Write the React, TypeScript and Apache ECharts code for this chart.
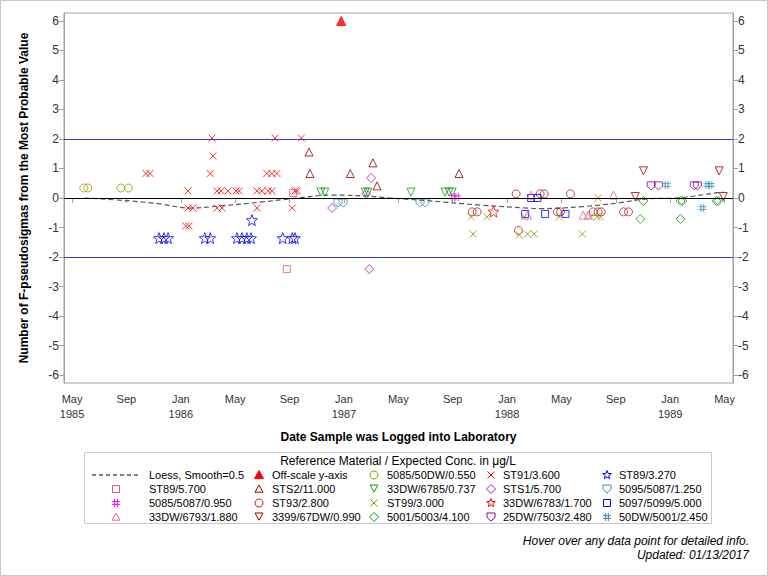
import React, { useEffect, useRef } from "react";
import * as echarts from "echarts";

type Pt = [string, number];

// ---------- axis ticks ----------
const xTickMonths = [4, 8, 12, 16, 20, 24, 28, 32, 36, 40, 44, 48, 52]; // months since Jan 1985
const monthNames = ["Jan", "Feb", "Mar", "Apr", "May", "Jun", "Jul", "Aug", "Sep", "Oct", "Nov", "Dec"];
const yTicks = [-6, -5, -4, -3, -2, -1, 0, 1, 2, 3, 4, 5, 6];
const refLines = [0, 2, -2];

// ---------- data ----------
const loessCurve: Pt[] = [
  ["1985-05-29", 0], ["1985-09-09", -0.1], ["1985-11-15", -0.2], ["1986-01-21", -0.34],
  ["1986-03-28", -0.27], ["1986-06-26", -0.14], ["1986-09-02", -0.03], ["1986-12-07", 0.1],
  ["1987-02-13", 0.07], ["1987-04-13", 0], ["1987-07-04", -0.09], ["1987-11-01", -0.24],
  ["1988-02-16", -0.34], ["1988-03-14", -0.36], ["1988-06-19", -0.29], ["1988-09-10", -0.16],
  ["1988-11-10", -0.03], ["1989-01-24", 0.01], ["1989-04-15", 0.18], ["1989-04-28", 0.2],
];
const offScale: Pt[] = [["1986-12-25", 6]];
const m5085_50dw: Pt[] = [["1985-05-27", 0.34], ["1985-06-06", 0.34], ["1985-08-19", 0.34], ["1985-09-05", 0.34]];
const st91: Pt[] = [
  ["1985-10-14", 0.83], ["1985-10-23", 0.83],
  ["1986-01-17", 0.24], ["1986-01-17", -0.34], ["1986-01-28", -0.34], ["1986-01-12", -0.95], ["1986-01-19", -0.95],
  ["1986-03-10", 2.03], ["1986-03-12", 1.42], ["1986-03-06", 0.83],
  ["1986-03-21", 0.24], ["1986-03-30", 0.24], ["1986-04-15", 0.24],
  ["1986-03-21", -0.34], ["1986-04-02", -0.34],
  ["1986-05-03", 0.24], ["1986-05-10", 0.24],
  ["1986-06-19", 0.24], ["1986-06-30", 0.24], ["1986-07-14", 0.24], ["1986-07-22", 0.24],
  ["1986-06-19", -0.34],
  ["1986-07-11", 0.83], ["1986-07-22", 0.83], ["1986-08-03", 0.83],
  ["1986-07-29", 2.03], ["1986-09-07", -0.34],
  ["1986-09-13", 0.24], ["1986-09-18", 0.24], ["1986-09-27", 2.03],
];
const st89_3270: Pt[] = [
  ["1985-11-13", -1.36], ["1985-11-24", -1.36], ["1985-12-03", -1.36], ["1986-02-24", -1.36],
  ["1986-03-06", -1.36], ["1986-05-05", -1.36], ["1986-05-16", -1.36], ["1986-05-27", -1.36],
  ["1986-06-06", -1.36], ["1986-06-08", -0.75], ["1986-08-16", -1.36], ["1986-09-07", -1.36],
  ["1986-09-13", -1.36],
];
const st89_5700: Pt[] = [["1986-08-25", -2.41], ["1986-09-09", 0.17]];
const sts2: Pt[] = [["1986-10-14", 1.56], ["1986-10-16", 0.83], ["1987-01-15", 0.83], ["1987-03-05", 1.19], ["1987-03-14", 0.41], ["1987-09-15", 0.83]];
const dw6785: Pt[] = [
  ["1986-11-10", 0.2], ["1986-11-19", 0.2], ["1987-02-18", 0.2], ["1987-02-24", 0.2],
  ["1987-05-29", 0.2], ["1987-08-14", 0.2], ["1987-08-23", 0.2], ["1987-08-30", 0.2],
];
const sts1: Pt[] = [["1987-03-01", 0.68], ["1987-02-20", 0.14], ["1986-12-05", -0.34], ["1987-02-27", -2.41]];
const m5095_5087: Pt[] = [["1986-12-18", -0.17], ["1986-12-29", -0.17], ["1987-06-19", -0.17], ["1987-06-30", -0.17]];
const m5085_5087: Pt[] = [["1987-09-02", 0.03], ["1987-09-11", 0.03]];
const st93: Pt[] = [
  ["1987-10-14", -0.47], ["1987-10-25", -0.47], ["1988-01-21", 0.14], ["1988-01-26", -1.1],
  ["1988-03-14", 0.14], ["1988-03-23", 0.14], ["1988-05-21", 0.14], ["1988-04-22", -0.47],
  ["1988-04-29", -0.47], ["1988-07-11", -0.47], ["1988-07-22", -0.47], ["1988-07-29", -0.47],
  ["1988-09-18", -0.47], ["1988-09-29", -0.47],
];
const st99: Pt[] = [
  ["1987-10-12", -0.64], ["1987-11-17", -0.64], ["1987-10-16", -1.22], ["1988-02-09", -0.64],
  ["1988-02-16", -1.22], ["1988-01-28", -1.25], ["1988-03-01", -1.22], ["1988-04-26", -0.64],
  ["1988-07-22", 0.0], ["1988-06-17", -1.22], ["1988-07-05", -0.64], ["1988-07-20", -0.64],
  ["1988-07-27", -0.64],
];
const dw6783: Pt[] = [["1987-12-01", -0.46]];
const m5097_5099: Pt[] = [["1988-02-24", 0], ["1988-03-08", 0], ["1988-02-11", -0.54], ["1988-03-25", -0.54], ["1988-05-10", -0.54]];
const dw6793: Pt[] = [["1988-02-24", 0.1], ["1988-02-16", -0.58], ["1988-06-19", -0.58], ["1988-06-30", -0.58], ["1988-08-26", 0.1]];
const dw3399: Pt[] = [["1988-11-02", 0.92], ["1988-10-14", 0.05], ["1989-04-19", 0.92], ["1989-04-28", 0.05]];
const m5001_5003: Pt[] = [
  ["1988-11-02", -0.1], ["1988-10-25", -0.71], ["1989-01-24", -0.1], ["1989-01-28", -0.1],
  ["1989-01-24", -0.71], ["1989-04-13", -0.1], ["1989-04-17", -0.1],
];
const dw7503: Pt[] = [["1988-11-19", 0.41], ["1988-12-05", 0.41], ["1989-02-24", 0.41], ["1989-03-01", 0.41]];
const dw5001: Pt[] = [["1988-12-23", 0.44], ["1989-03-23", 0.44], ["1989-03-30", 0.44], ["1989-03-12", -0.34]];

// ---------- symbol shapes (0..10 box) ----------
type ShapeDef = { closed: boolean; parts: number[][][] };
const SHAPES: Record<string, ShapeDef> = {
  x: { closed: false, parts: [[[0, 0], [10, 10]], [[10, 0], [0, 10]]] },
  hash: { closed: false, parts: [[[3.3, 0], [3.3, 10]], [[6.7, 0], [6.7, 10]], [[0, 3.3], [10, 3.3]], [[0, 6.7], [10, 6.7]]] },
  tri: { closed: true, parts: [[[5, 0], [10, 9], [0, 9]]] },
  invTri: { closed: true, parts: [[[0, 0], [10, 0], [5, 9]]] },
  diamond: { closed: true, parts: [[[5, 0], [10, 5], [5, 10], [0, 5]]] },
  square: { closed: true, parts: [[[0, 0], [10, 0], [10, 10], [0, 10]]] },
  shield: { closed: true, parts: [[[0, 0], [10, 0], [10, 5.5], [5, 10], [0, 5.5]]] },
  star: {
    closed: true,
    parts: [[[5, 0], [6.23, 3.3], [9.76, 3.45], [7, 5.65], [7.94, 9.05], [5, 7.1], [2.06, 9.05], [3, 5.65], [0.24, 3.45], [3.77, 3.3]]],
  },
};
const toPath = (k: string) => {
  if (k === "circle") return "circle";
  const d = SHAPES[k];
  return "path://" + d.parts.map((p) => "M" + p.map((q) => q.join(",")).join("L") + (d.closed ? "Z" : "")).join("");
};

type Spec = { name: string; data: Pt[]; shape: string; color: string; size: number; filled?: boolean };
const specs: Spec[] = [
  { name: "Off-scale y-axis", data: offScale, shape: "tri", color: "#ff0000", size: 9, filled: true },
  { name: "5085/50DW/0.550", data: m5085_50dw, shape: "circle", color: "#999900", size: 8 },
  { name: "ST91/3.600", data: st91, shape: "x", color: "#ff0000", size: 7 },
  { name: "ST89/3.270", data: st89_3270, shape: "star", color: "#0000ff", size: 11 },
  { name: "ST89/5.700", data: st89_5700, shape: "square", color: "#e0508c", size: 7 },
  { name: "STS2/11.000", data: sts2, shape: "tri", color: "#8b0000", size: 8 },
  { name: "33DW/6785/0.737", data: dw6785, shape: "invTri", color: "#119911", size: 8 },
  { name: "STS1/5.700", data: sts1, shape: "diamond", color: "#a020b0", size: 9 },
  { name: "5095/5087/1.250", data: m5095_5087, shape: "shield", color: "#3a8ab5", size: 8 },
  { name: "5085/5087/0.950", data: m5085_5087, shape: "hash", color: "#ff00ff", size: 8 },
  { name: "ST93/2.800", data: st93, shape: "circle", color: "#b22222", size: 8 },
  { name: "ST99/3.000", data: st99, shape: "x", color: "#8f8f00", size: 7 },
  { name: "33DW/6783/1.700", data: dw6783, shape: "star", color: "#ff0000", size: 11 },
  { name: "5097/5099/5.000", data: m5097_5099, shape: "square", color: "#0000ff", size: 7 },
  { name: "33DW/6793/1.880", data: dw6793, shape: "tri", color: "#e4609c", size: 8 },
  { name: "3399/67DW/0.990", data: dw3399, shape: "invTri", color: "#a00000", size: 8 },
  { name: "5001/5003/4.100", data: m5001_5003, shape: "diamond", color: "#119911", size: 9 },
  { name: "25DW/7503/2.480", data: dw7503, shape: "shield", color: "#8b008b", size: 8 },
  { name: "50DW/5001/2.450", data: dw5001, shape: "hash", color: "#3a8ab5", size: 8 },
];

const legendTitle = "Reference Material / Expected Conc. in \u03bcg/L";
const loessName = "Loess, Smooth=0.5";
const legendOrder = [
  loessName, "Off-scale y-axis", "5085/50DW/0.550", "ST91/3.600", "ST89/3.270",
  "ST89/5.700", "STS2/11.000", "33DW/6785/0.737", "STS1/5.700", "5095/5087/1.250",
  "5085/5087/0.950", "ST93/2.800", "ST99/3.000", "33DW/6783/1.700", "5097/5099/5.000",
  "33DW/6793/1.880", "3399/67DW/0.990", "5001/5003/4.100", "25DW/7503/2.480", "50DW/5001/2.450",
];

const toM = (s: string) => {
  const [y, m, d] = s.split("-").map(Number);
  return (y - 1985) * 12 + (m - 1) + (d - 1) / 30;
};

const FONT = "Liberation Sans, Arial, Helvetica, sans-serif";

function legendSymbol(shape: string, color: string, filled: boolean, cx: number, cy: number, size: number): any {
  if (shape === "circle") {
    return { type: "circle", shape: { cx, cy, r: size / 2 }, style: { fill: filled ? color : "none", stroke: color, lineWidth: 1 } };
  }
  const def = SHAPES[shape];
  const s = size / 10;
  return {
    type: "group",
    children: def.parts.map((p) => ({
      type: def.closed ? "polygon" : "polyline",
      shape: { points: p.map(([px, py]) => [cx + (px - 5) * s, cy + (py - 5) * s]) },
      style: { fill: def.closed && filled ? color : "none", stroke: color, lineWidth: 1 },
    })),
  };
}

export default function App() {
  const ref = useRef<HTMLDivElement>(null);
  useEffect(() => {
    if (!ref.current) return;
    const chart = echarts.init(ref.current, undefined, { renderer: "svg" });

    const colSym = [116, 259, 374, 491, 607];
    const colText = [149, 272, 387, 503, 619];
    const rowY = [475, 489, 503, 517];
    const legendEls: any[] = [
      { type: "rect", shape: { x: 84.5, y: 452.5, width: 627, height: 71 }, style: { fill: "none", stroke: "#c8c8c8", lineWidth: 1 } },
      { type: "text", x: 398, y: 461, style: { text: legendTitle, font: `12px ${FONT}`, fill: "#000", textAlign: "center", textVerticalAlign: "middle" } },
    ];
    legendOrder.forEach((name, i) => {
      const col = i % 5;
      const row = Math.floor(i / 5);
      const cy = rowY[row];
      if (name === loessName) {
        legendEls.push({ type: "line", shape: { x1: 92, y1: cy, x2: 140, y2: cy }, style: { stroke: "#000", lineWidth: 1, lineDash: [4, 3] } });
      } else {
        const sp = specs.find((s) => s.name === name)!;
        legendEls.push(legendSymbol(sp.shape, sp.color, !!sp.filled, colSym[col], cy, Math.min(sp.size, 9)));
      }
      legendEls.push({ type: "text", x: colText[col], y: cy, style: { text: name, font: `11px ${FONT}`, fill: "#000", textAlign: "left", textVerticalAlign: "middle" } });
    });

    const yAxisCommon = {
      type: "value",
      min: -6.27,
      max: 6.27,
      splitLine: { show: false },
      axisLine: { show: true, lineStyle: { color: "#a0a0a0" } },
      axisTick: { show: true, length: 5, customValues: yTicks, lineStyle: { color: "#a0a0a0" } },
      axisLabel: { customValues: yTicks, color: "#333", fontSize: 12, fontFamily: FONT, margin: 5 },
    };

    const option: any = {
      animation: false,
      textStyle: { fontFamily: FONT },
      grid: { left: 64, right: 35, top: 13, bottom: 193, show: true, borderColor: "#a0a0a0", borderWidth: 1 },
      xAxis: {
        type: "value",
        min: 3.41,
        max: 52.62,
        splitLine: { show: false },
        axisLine: { show: true, lineStyle: { color: "#a0a0a0" } },
        axisTick: { show: true, length: 5, customValues: xTickMonths, lineStyle: { color: "#a0a0a0" } },
        axisLabel: {
          customValues: xTickMonths,
          color: "#333",
          fontSize: 11,
          fontFamily: FONT,
          margin: 8,
          lineHeight: 15,
          formatter: (v: number) => {
            const mi = Math.round(v);
            const mon = monthNames[mi % 12];
            const yr = 1985 + Math.floor(mi / 12);
            return mi === xTickMonths[0] || mi % 12 === 0 ? `${mon}\n${yr}` : mon;
          },
        },
        name: "Date Sample was Logged into Laboratory",
        nameLocation: "middle",
        nameGap: 48,
        nameTextStyle: { fontWeight: "bold", fontSize: 12, color: "#000", fontFamily: FONT },
      },
      yAxis: [
        {
          ...yAxisCommon,
          position: "left",
          name: "Number of F-pseudosigmas from the Most Probable Value",
          nameLocation: "middle",
          nameGap: 34,
          nameTextStyle: { fontWeight: "bold", fontSize: 12, color: "#000", fontFamily: FONT },
        },
        { ...yAxisCommon, position: "right" },
      ],
      graphic: {
        elements: [
          { type: "rect", shape: { x: 0.5, y: 0.5, width: 767, height: 575 }, style: { fill: "none", stroke: "#c8c8c8", lineWidth: 1 } },
          ...legendEls,
          { type: "text", x: 749, y: 541, style: { text: "Hover over any data point for detailed info.", font: `italic 12px ${FONT}`, fill: "#000", textAlign: "right", textVerticalAlign: "middle" } },
          { type: "text", x: 749, y: 555, style: { text: "Updated: 01/13/2017", font: `italic 12px ${FONT}`, fill: "#000", textAlign: "right", textVerticalAlign: "middle" } },
        ],
      },
      series: [
        {
          type: "line",
          name: "refs",
          data: [],
          z: 1,
          silent: true,
          markLine: {
            silent: true,
            symbol: ["none", "none"],
            label: { show: false },
            data: refLines.map((v) => ({ yAxis: v, lineStyle: { color: v === 0 ? "#000" : "#3c3cac", width: 1, type: "solid" } })),
          },
        },
        {
          type: "line",
          name: loessName,
          data: loessCurve.map(([d, v]) => [toM(d), v]),
          smooth: 0.4,
          showSymbol: false,
          symbol: "none",
          silent: true,
          z: 2,
          lineStyle: { color: "#555", width: 1.2, type: [5, 3] },
        },
        ...specs.map((sp) => ({
          type: "scatter",
          name: sp.name,
          z: 3,
          data: sp.data.map(([d, v]) => [toM(d), v]),
          symbol: toPath(sp.shape),
          symbolSize: sp.size,
          itemStyle: { color: sp.filled ? sp.color : "rgba(0,0,0,0)", borderColor: sp.color, borderWidth: 1 },
        })),
      ],
    };
    chart.setOption(option);
    return () => chart.dispose();
  }, []);
  return <div ref={ref} style={{ position: "absolute", left: 0, top: 0, width: 768, height: 576 }} />;
}
